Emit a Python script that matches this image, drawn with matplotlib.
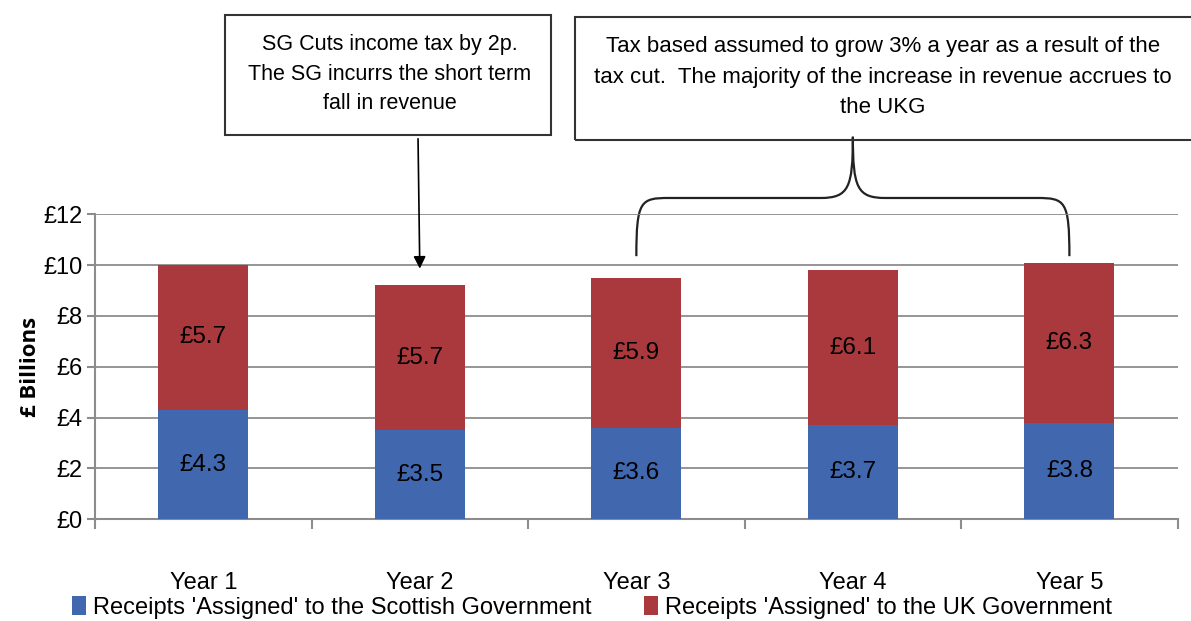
import matplotlib.pyplot as plt
from matplotlib.patches import Rectangle, PathPatch
from matplotlib.path import Path

# --- Data ---
years = ['Year 1', 'Year 2', 'Year 3', 'Year 4', 'Year 5']
scottish = [4.3, 3.5, 3.6, 3.7, 3.8]
uk = [5.7, 5.7, 5.9, 6.1, 6.3]
y_ticks = [0, 2, 4, 6, 8, 10, 12]

blue = '#4168AE'
red = '#A9393C'
grid_col = '#8C8C8C'

plt.rcParams['font.family'] = ['Liberation Sans Narrow', 'Liberation Sans', 'DejaVu Sans']

fig = plt.figure(figsize=(11.91, 6.21), dpi=100)
ax = fig.add_axes([0.0798, 0.164, 0.909, 0.491])

x = list(range(len(years)))
b1 = ax.bar(x, scottish, width=0.415, color=blue, zorder=3,
            label="Receipts 'Assigned' to the Scottish Government")
b2 = ax.bar(x, uk, width=0.415, bottom=scottish, color=red, zorder=3,
            label="Receipts 'Assigned' to the UK Government")

# segment labels
for i in x:
    ax.text(i, scottish[i] / 2, f'£{scottish[i]:.1f}', ha='center', va='center', fontsize=17.5, zorder=4)
    ax.text(i, scottish[i] + uk[i] / 2, f'£{uk[i]:.1f}', ha='center', va='center', fontsize=17.5, zorder=4)

ax.set_xlim(-0.5, 4.5)
ax.set_ylim(0, 12)
ax.set_yticks(y_ticks)
ax.set_yticklabels([f'£{v}' for v in y_ticks], fontsize=17)
ax.set_xticks(x)
ax.set_xticklabels(years, fontsize=17)
ax.set_xticks([i - 0.5 for i in range(len(years) + 1)], minor=True)
ax.tick_params(axis='x', which='major', length=0, pad=38)
ax.tick_params(axis='x', which='minor', length=7, color=grid_col, width=1.5)
ax.tick_params(axis='y', length=6, color=grid_col, width=1.5, pad=3)
ax.yaxis.grid(True, color=grid_col, linewidth=1.3, zorder=0)
for s in ['top', 'right']:
    ax.spines[s].set_visible(False)
for s in ['left', 'bottom']:
    ax.spines[s].set_color(grid_col)
    ax.spines[s].set_linewidth(1.5)
ax.set_ylabel('£ Billions', fontsize=16, fontweight='bold', family=['Open Sans', 'DejaVu Sans'], labelpad=2)

# legend
fig.legend(handles=[b1, b2], loc='center', bbox_to_anchor=(0.497, 0.022), ncol=2, frameon=False,
           fontsize=17, handlelength=0.6, handleheight=0.9, handletextpad=0.3, columnspacing=2.2)

# annotation box 1
fig.add_artist(Rectangle((225, 486), 326, 120, transform=None, fill=False, edgecolor='#333333', linewidth=1.5))
fig.text(390 / 1191, 1 - 74 / 621,
         'SG Cuts income tax by 2p.\nThe SG incurrs the short term\nfall in revenue',
         ha='center', va='center', fontsize=15.5, linespacing=1.55)
ax.annotate('', xy=(1, 9.75), xycoords='data', xytext=(418, 621 - 136), textcoords='figure pixels',
            arrowprops=dict(arrowstyle='-|>', color='black', lw=1.2, mutation_scale=18),
            annotation_clip=False)

# annotation box 2
fig.add_artist(Rectangle((575, 481), 660, 123, transform=None, fill=False, edgecolor='#333333', linewidth=1.5))
fig.text(883 / 1191, 1 - 77 / 621,
         'Tax based assumed to grow 3% a year as a result of the\ntax cut.  The majority of the increase in revenue accrues to\nthe UKG',
         ha='center', va='center', fontsize=16, linespacing=1.6)

# brace over years 3-5
x0, x1, xm = 2.0, 4.0, 3.0
y0, yh, yt = 10.35, 12.64, 15.05
dx = 0.15
verts = [(x0, y0), (x0, yh - 0.1), (x0 + 0.02, yh), (x0 + dx, yh),
         (xm - dx, yh), (xm - 0.02, yh), (xm, yh + 0.4), (xm, yt),
         (xm, yh + 0.4), (xm + 0.02, yh), (xm + dx, yh),
         (x1 - dx, yh), (x1 - 0.02, yh), (x1, yh - 0.1), (x1, y0)]
codes = [Path.MOVETO, Path.CURVE4, Path.CURVE4, Path.CURVE4,
         Path.LINETO, Path.CURVE4, Path.CURVE4, Path.CURVE4,
         Path.CURVE4, Path.CURVE4, Path.CURVE4,
         Path.LINETO, Path.CURVE4, Path.CURVE4, Path.CURVE4]
brace = PathPatch(Path(verts, codes), fill=False, edgecolor='#222222', linewidth=1.6, clip_on=False)
ax.add_patch(brace)

fig.savefig('out.png', dpi=100)
